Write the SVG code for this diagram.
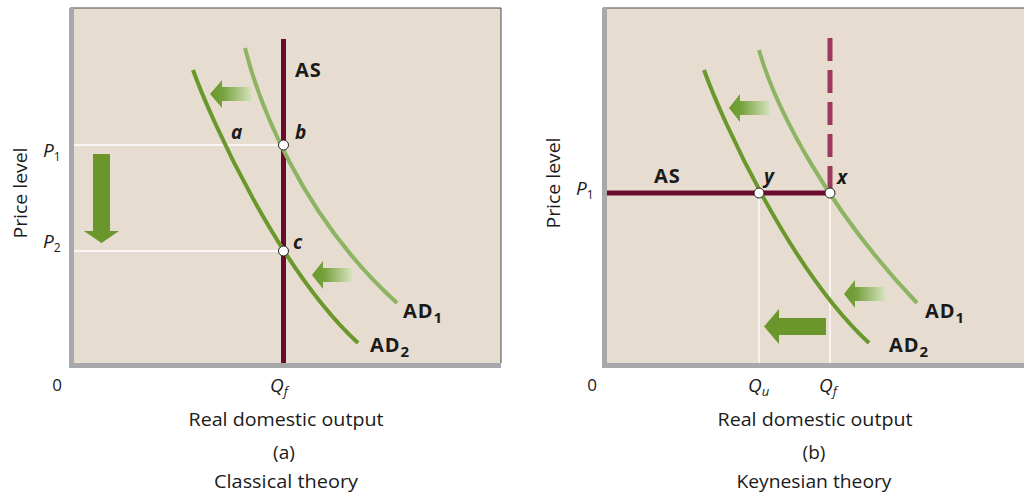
<svg xmlns="http://www.w3.org/2000/svg" width="1024" height="492" viewBox="0 0 1024 492">
<defs>
<linearGradient id="fade" x1="0" y1="0" x2="1" y2="0">
<stop offset="0" stop-color="#6a982c"/>
<stop offset="0.3" stop-color="#76a13c"/>
<stop offset="1" stop-color="#d6e3bf"/>
</linearGradient>
<style>
.bg{fill:#e6dccf}
.bar{fill:#a8a8aa}
.edge{stroke:#4a4a4a;stroke-width:1;fill:none}
.guide{stroke:#ffffff;stroke-width:1.3;fill:none}
.as{stroke:#6a0a2e;stroke-width:5;fill:none}
.asd{stroke:#9c3a5e;stroke-width:5;fill:none;stroke-dasharray:23 9}
.ad1{stroke:#8cb462;stroke-width:4;fill:none}
.ad2{stroke:#6a982c;stroke-width:4;fill:none}
.pt{fill:#ffffff;stroke:#222;stroke-width:1}
.fade{fill:url(#fade)}
.solid{fill:#6a962c}
.t{font-family:"Open Sans","Liberation Sans",sans-serif;fill:#1a1a1a}
.lab{font-size:19px}
.bold{font-family:"Open Sans","Liberation Sans",sans-serif;font-weight:bold;font-size:20px;letter-spacing:1px;fill:#1a1a1a}
.it{font-family:"Open Sans","Liberation Sans",sans-serif;font-style:italic;font-weight:bold;font-size:19px;fill:#1a1a1a}
.var{font-family:"Open Sans","Liberation Sans",sans-serif;font-style:italic;font-size:19px;fill:#1a1a1a}
</style>
</defs>

<g id="panel-a">
<rect class="bg" x="74" y="8" width="427" height="355"/>
<path class="edge" d="M70,8 H501 V363"/>
<rect class="bar" x="69" y="8" width="5" height="360"/>
<rect class="bar" x="69" y="363" width="432" height="5"/>
</g>

<g id="panel-b">
<rect class="bg" x="607" y="8" width="417" height="355"/>
<path class="edge" d="M603,8 H1024"/>
<rect class="bar" x="602" y="8" width="5" height="360"/>
<rect class="bar" x="602" y="363" width="422" height="5"/>
</g>

<g id="connectors">
<line class="guide" x1="74" y1="145" x2="283" y2="145"/>
<line class="guide" x1="74" y1="251" x2="283" y2="251"/>
<line class="guide" x1="759" y1="193" x2="759" y2="363"/>
<line class="guide" x1="830" y1="193" x2="830" y2="363"/>
</g>

<g id="as-a">
<line class="as" x1="283.5" y1="39" x2="283.5" y2="363"/>
<text class="bold" x="295" y="77">AS</text>
</g>

<g id="ad1-a">
<path class="ad1" d="M245,48 C258,100 300,215 397,303"/>
<text class="bold" x="403" y="318">AD<tspan font-size="15" dy="5">1</tspan></text>
</g>

<g id="ad2-a">
<path class="ad2" d="M193,70 C211,120 279,270 358,343"/>
<text class="bold" x="370" y="352">AD<tspan font-size="15" dy="5">2</tspan></text>
</g>

<g id="arrows-a">
<polygon class="fade" points="210,94 222,80 222,87 252,87 252,101 222,101 222,108"/>
<polygon class="fade" points="312,275 323,261 323,268 352,268 352,282 323,282 323,289"/>
<polygon class="solid" points="93,154 110,154 110,231 119,231 101.5,243 84,231 93,231"/>
</g>

<g id="points-a">
<circle class="pt" cx="283.5" cy="145" r="5"/>
<circle class="pt" cx="283.5" cy="251" r="5"/>
<text class="it" x="231" y="139">a</text>
<text class="it" x="295" y="139">b</text>
<text class="it" x="293" y="249">c</text>
</g>

<g id="axes-a">
<text class="var" x="43" y="157">P<tspan font-style="normal" font-size="12" dy="4">1</tspan></text>
<text class="var" x="43" y="248">P<tspan font-style="normal" font-size="12" dy="4">2</tspan></text>
<text class="t lab" transform="translate(27,193) rotate(-90)" text-anchor="middle" textLength="91" lengthAdjust="spacingAndGlyphs">Price level</text>
<text class="t" font-size="17" x="57" y="391" text-anchor="middle">0</text>
<text class="var" x="270" y="392">Q<tspan font-size="13" dy="4">f</tspan></text>
<text class="t lab" x="286" y="426" text-anchor="middle" textLength="195" lengthAdjust="spacingAndGlyphs">Real domestic output</text>
<text class="t lab" x="284" y="459" text-anchor="middle">(a)</text>
<text class="t lab" x="286" y="488" text-anchor="middle" textLength="144" lengthAdjust="spacingAndGlyphs">Classical theory</text>
</g>

<g id="as-b">
<line class="asd" x1="830" y1="38" x2="830" y2="193"/>
<line class="as" x1="607" y1="193" x2="830" y2="193"/>
<text class="bold" x="654" y="183">AS</text>
</g>

<g id="ad1-b">
<path class="ad1" d="M759,50 C776,110 830,212 917,303"/>
<text class="bold" x="925" y="318">AD<tspan font-size="15" dy="5">1</tspan></text>
</g>

<g id="ad2-b">
<path class="ad2" d="M704,70 C722,120 790,270 869,343"/>
<text class="bold" x="889" y="352">AD<tspan font-size="15" dy="5">2</tspan></text>
</g>

<g id="arrows-b">
<polygon class="fade" points="729,108 740,94 740,101 770,101 770,115 740,115 740,122"/>
<polygon class="fade" points="844,294 855,280 855,287 885,287 885,301 855,301 855,308"/>
<polygon class="solid" points="764,326.5 779,309 779,318 826,318 826,335 779,335 779,344"/>
</g>

<g id="points-b">
<circle class="pt" cx="759" cy="193" r="5"/>
<circle class="pt" cx="830" cy="193" r="5"/>
<text class="it" x="764" y="183">y</text>
<text class="it" x="837" y="184">x</text>
</g>

<g id="axes-b">
<text class="var" x="576" y="195">P<tspan font-style="normal" font-size="12" dy="4">1</tspan></text>
<text class="t lab" transform="translate(560,183) rotate(-90)" text-anchor="middle" textLength="91" lengthAdjust="spacingAndGlyphs">Price level</text>
<text class="t" font-size="17" x="592" y="391" text-anchor="middle">0</text>
<text class="var" x="748" y="392">Q<tspan font-size="13" dy="4">u</tspan></text>
<text class="var" x="819" y="392">Q<tspan font-size="13" dy="4">f</tspan></text>
<text class="t lab" x="815" y="426" text-anchor="middle" textLength="195" lengthAdjust="spacingAndGlyphs">Real domestic output</text>
<text class="t lab" x="814" y="459" text-anchor="middle">(b)</text>
<text class="t lab" x="814" y="488" text-anchor="middle" textLength="155" lengthAdjust="spacingAndGlyphs">Keynesian theory</text>
</g>
</svg>
